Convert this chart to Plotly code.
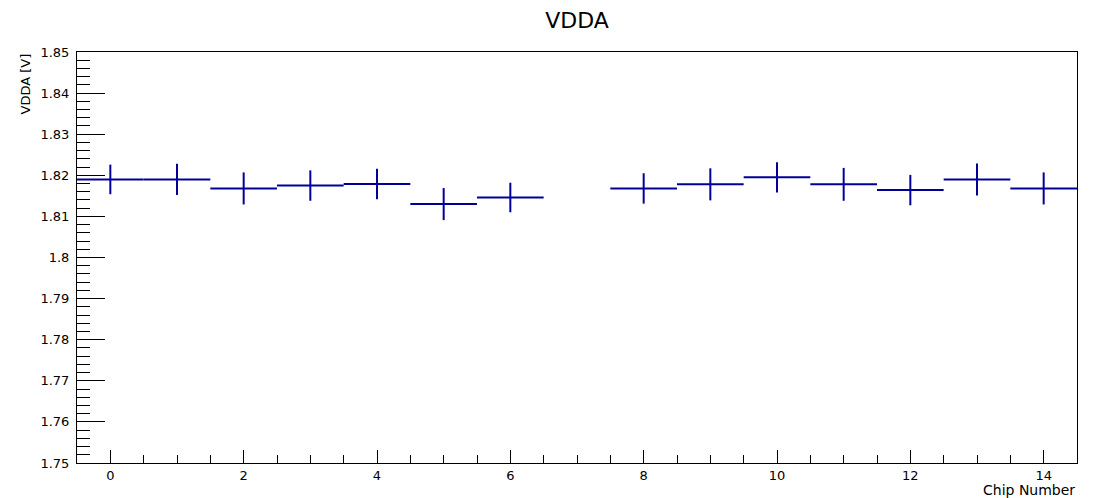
import plotly.graph_objects as go

# Per-chip VDDA readings (chip 7 has no measurement)
chips = [0, 1, 2, 3, 4, 5, 6, 8, 9, 10, 11, 12, 13, 14]
vdda = [1.8190, 1.8190, 1.8168, 1.8175, 1.8179, 1.8130, 1.8146,
        1.8168, 1.8178, 1.8195, 1.8178, 1.8164, 1.8190, 1.8168]
vdda_err = [0.0036, 0.0038, 0.0039, 0.0037, 0.0037, 0.0039, 0.0036,
            0.0037, 0.0039, 0.0037, 0.0040, 0.0037, 0.0039, 0.0039]
bin_half_width = [0.5] * len(chips)

y_ticks = [1.75, 1.76, 1.77, 1.78, 1.79, 1.80, 1.81, 1.82, 1.83, 1.84, 1.85]
y_tick_text = ["1.75", "1.76", "1.77", "1.78", "1.79", "1.8",
               "1.81", "1.82", "1.83", "1.84", "1.85"]
x_ticks = [0, 2, 4, 6, 8, 10, 12, 14]

line_color = "rgb(0,0,153)"
font_family = "DejaVu Sans, Liberation Sans, Arial, sans-serif"

fig = go.Figure()
fig.add_trace(go.Scatter(
    x=chips,
    y=vdda,
    mode="markers",
    marker=dict(size=0.1, color=line_color),
    error_x=dict(type="data", array=bin_half_width, width=0,
                 thickness=2, color=line_color),
    error_y=dict(type="data", array=vdda_err, width=0,
                 thickness=2, color=line_color),
    showlegend=False,
    hoverinfo="x+y",
))

fig.update_layout(
    width=1096,
    height=498,
    margin=dict(l=77, r=19, t=52, b=35),
    paper_bgcolor="white",
    plot_bgcolor="white",
    font=dict(family=font_family, size=13, color="black"),
    title=dict(text="VDDA", x=577 / 1096, xanchor="center",
               y=1 - 20 / 498, yanchor="middle",
               font=dict(size=22, family=font_family, color="black")),
    xaxis=dict(
        range=[-0.5, 14.5],
        tickvals=x_ticks,
        ticks="inside",
        ticklen=13,
        tickwidth=1,
        tickcolor="black",
        showgrid=False,
        zeroline=False,
        showline=True,
        mirror=True,
        linecolor="black",
        linewidth=1,
        minor=dict(dtick=0.5, tick0=0, ticks="inside", ticklen=8,
                   tickwidth=1, tickcolor="black", showgrid=False),
        tickfont=dict(size=13),
    ),
    yaxis=dict(
        range=[1.75, 1.85],
        tickvals=y_ticks,
        ticktext=y_tick_text,
        ticks="inside",
        ticklen=28,
        tickwidth=1,
        tickcolor="black",
        showgrid=False,
        zeroline=False,
        showline=True,
        mirror=True,
        linecolor="black",
        linewidth=1,
        minor=dict(dtick=0.002, tick0=1.75, ticks="inside", ticklen=13,
                   tickwidth=1, tickcolor="black", showgrid=False),
        tickfont=dict(size=13),
        ticklabelstandoff=4,
    ),
    annotations=[
        dict(text="VDDA [V]", xref="paper", yref="paper",
             x=(25 - 77) / 1000, y=1.0, xanchor="center", yanchor="top",
             textangle=-90, showarrow=False,
             font=dict(size=13, family=font_family, color="black")),
        dict(text="Chip Number", xref="paper", yref="paper",
             x=1.0, y=-27 / 411, xanchor="right", yanchor="middle",
             showarrow=False,
             font=dict(size=14, family=font_family, color="black")),
    ],
)

fig.write_html("out.html")
